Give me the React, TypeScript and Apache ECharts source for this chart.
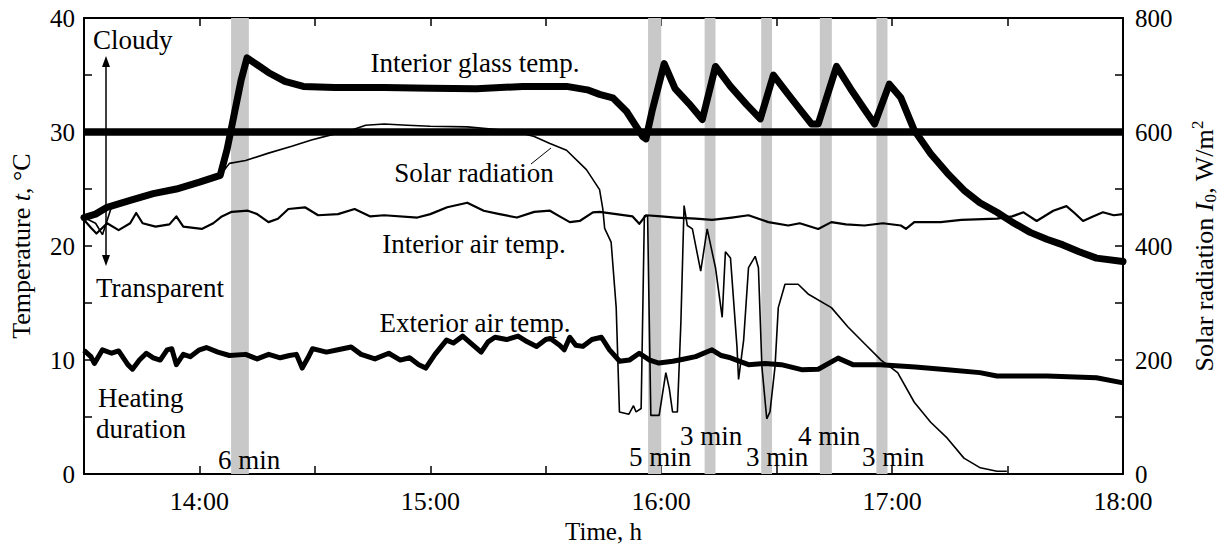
import React, { useEffect, useRef } from "react";
import * as echarts from "echarts";

// Time in decimal hours
const glassTime = [13.5,13.55,13.6,13.7,13.8,13.9,14.0,14.09,14.12,14.15,14.18,14.206,14.25,14.3,14.37,14.45,14.586,14.8,15.0,15.2,15.4,15.59,15.68,15.733,15.79,15.85,15.92,15.934,15.96,16.013,16.06,16.12,16.178,16.235,16.3,16.37,16.429,16.486,16.55,16.6,16.651,16.68,16.759,16.82,16.88,16.924,16.988,17.038,17.096,17.167,17.239,17.311,17.38,17.454,17.52,17.598,17.67,17.74,17.81,17.885,18.0];
const glassTemp = [22.5,22.8,23.4,24.0,24.6,25.0,25.6,26.2,28.5,31.5,34.5,36.5,35.9,35.2,34.45,34.0,33.9,33.9,33.85,33.8,34.0,34.0,33.7,33.3,33.0,31.8,29.6,29.4,31.8,36.0,33.8,32.5,31.1,35.75,34.0,32.4,31.15,35.0,33.3,32.0,30.7,30.7,35.75,33.8,32.0,30.7,34.2,33.0,30.15,28.1,26.4,24.9,23.8,22.96,22.1,21.2,20.6,20.1,19.5,18.94,18.65];

const airInTime = [13.5,13.53,13.554,13.6,13.65,13.7,13.726,13.754,13.81,13.87,13.9,13.93,14.01,14.06,14.097,14.14,14.21,14.25,14.299,14.34,14.385,14.457,14.514,14.6,14.672,14.74,14.8,14.944,15.0,15.073,15.16,15.231,15.3,15.375,15.45,15.518,15.56,15.604,15.647,15.704,15.733,15.805,15.876,15.905,15.934,16.0,16.063,16.149,16.22,16.306,16.378,16.464,16.55,16.6,16.68,16.737,16.8,16.88,16.96,17.038,17.06,17.096,17.21,17.3,17.454,17.52,17.569,17.626,17.698,17.755,17.79,17.827,17.87,17.913,17.96,18.0];
const airInTemp = [22.3,21.6,21.1,22.0,21.4,22.0,22.9,22.0,21.7,21.9,22.6,21.7,21.5,22.0,22.6,23.0,23.1,22.8,22.1,22.4,23.25,23.4,22.7,22.8,23.25,22.6,22.7,22.5,22.8,23.4,23.8,23.1,22.8,22.5,23.0,23.1,22.6,22.1,22.2,22.96,23.0,22.8,22.6,21.95,22.7,22.6,22.5,22.4,22.3,22.5,22.7,22.1,21.8,22.0,21.5,22.1,21.9,21.8,22.0,21.8,21.5,22.1,22.1,22.3,22.4,22.6,22.96,22.2,23.1,23.5,22.9,22.2,22.6,22.96,22.7,22.8];

const airOutTime = [13.5,13.53,13.545,13.58,13.62,13.65,13.69,13.71,13.74,13.77,13.8,13.83,13.86,13.88,13.9,13.93,13.96,14.0,14.03,14.08,14.13,14.2,14.25,14.3,14.35,14.39,14.42,14.445,14.47,14.49,14.55,14.6,14.657,14.7,14.76,14.82,14.87,14.91,14.95,14.98,15.02,15.07,15.1,15.14,15.18,15.22,15.25,15.28,15.33,15.38,15.42,15.46,15.5,15.52,15.56,15.58,15.604,15.63,15.66,15.7,15.741,15.776,15.82,15.862,15.905,15.95,15.99,16.05,16.1,16.149,16.22,16.26,16.3,16.378,16.45,16.52,16.608,16.68,16.766,16.83,16.95,17.1,17.24,17.38,17.454,17.67,17.885,18.0];
const airOutTemp = [10.85,10.3,9.7,10.9,10.6,10.8,9.6,9.2,10.0,10.6,10.2,10.0,10.9,11.0,9.6,10.5,10.3,10.9,11.1,10.7,10.4,10.5,10.1,10.5,10.2,10.4,10.5,9.3,10.2,11.0,10.7,10.9,11.15,10.5,10.1,10.6,10.0,10.2,9.6,9.3,10.5,11.75,11.5,12.1,11.4,10.7,11.6,12.0,11.8,12.1,11.6,11.2,11.8,11.9,11.3,10.9,12.0,11.3,11.2,11.8,12.0,10.9,9.9,10.0,10.6,10.0,9.74,9.9,10.1,10.3,10.9,10.4,10.2,9.6,9.7,9.6,9.16,9.2,10.17,9.6,9.6,9.4,9.16,8.9,8.6,8.6,8.45,8.0];

const solarTime = [13.5,13.55,13.58,13.62,13.7,13.8,13.9,14.0,14.09,14.13,14.2,14.299,14.4,14.485,14.57,14.657,14.72,14.8,14.9,15.0,15.16,15.3,15.375,15.45,15.518,15.59,15.676,15.733,15.747,15.755,15.783,15.805,15.819,15.86,15.88,15.891,15.913,15.927,15.941,15.948,15.955,15.991,16.02,16.035,16.049,16.07,16.085,16.099,16.113,16.135,16.171,16.199,16.235,16.264,16.278,16.3,16.328,16.335,16.357,16.378,16.407,16.421,16.436,16.457,16.471,16.493,16.507,16.536,16.593,16.636,16.737,16.809,16.88,16.952,17.024,17.096,17.167,17.239,17.311,17.382,17.454,17.497];
const solarValue = [450,440,420,470,480,492,500,512,524,545,550,563,575,586,595,603,612,614,612,610,609,604,600,592,580,568,534,499,465,431,407,292,109,105,120,109,115,453,453,275,103,103,178,150,109,109,264,471,436,430,356,430,362,275,390,379,224,166,235,362,382,362,189,97,109,189,292,333,333,316,292,258,229,200,178,126,91,63,28,11,5,5];

const thresholdTemp = 30;

// Heating periods [start, end] in hours
const heatStart = [14.137, 15.943, 16.188, 16.433, 16.687, 16.932];
const heatEnd = [14.214, 16.0, 16.235, 16.48, 16.739, 16.98];

const xTickLabels = ["14:00", "15:00", "16:00", "17:00", "18:00"];

const FONT = "'Liberation Serif', 'Times New Roman', serif";

function zip(a: number[], b: number[]) {
  return a.map((v, i) => [v, b[i]]);
}

export default function App() {
  const ref = useRef<HTMLDivElement>(null);
  useEffect(() => {
    if (!ref.current) return;
    const chart = echarts.init(ref.current, null, { renderer: "svg" });
    const txt = (text: string, x: number, y: number, align = "left", size = 27) => ({
      type: "text",
      x,
      y,
      style: {
        text,
        font: `${size}px ${FONT}`,
        fill: "#000",
        align,
        verticalAlign: "middle",
      },
      z: 50,
    });
    const option: any = {
      animation: false,
      backgroundColor: "#fff",
      grid: { left: 81, right: 100, top: 18, bottom: 66, containLabel: false },
      xAxis: [
        {
          type: "value",
          min: 13.5,
          max: 18,
          interval: 0.5,
          name: "Time, h",
          nameLocation: "middle",
          nameGap: 38,
          nameTextStyle: { fontFamily: FONT, fontSize: 25, color: "#000" },
          axisLine: { show: true, onZero: false, lineStyle: { color: "#000", width: 2 } },
          axisTick: { show: true, inside: true, length: 8, lineStyle: { color: "#000", width: 1.5 } },
          axisLabel: {
            fontFamily: FONT,
            fontSize: 26,
            color: "#000",
            margin: 14,
            formatter: (v: number) => {
              const i = Math.round(v - 14);
              return Math.abs(v - Math.round(v)) < 1e-6 && i >= 0 ? xTickLabels[i] : "";
            },
          },
          splitLine: { show: false },
        },
        {
          type: "value",
          position: "top",
          min: 13.5,
          max: 18,
          interval: 0.5,
          axisLine: { show: true, onZero: false, lineStyle: { color: "#000", width: 2 } },
          axisTick: { show: true, inside: true, length: 8, lineStyle: { color: "#000", width: 1.5 } },
          axisLabel: { show: false },
          splitLine: { show: false },
        },
      ],
      yAxis: [
        {
          type: "value",
          min: 0,
          max: 40,
          interval: 5,
          name: "Temperature {i|t}, °C",
          nameLocation: "middle",
          nameGap: 50,
          nameTextStyle: {
            fontFamily: FONT,
            fontSize: 26,
            color: "#000",
            rich: { i: { fontFamily: FONT, fontSize: 26, fontStyle: "italic", color: "#000" } },
          },
          axisLine: { show: true, onZero: false, lineStyle: { color: "#000", width: 2 } },
          axisTick: { show: true, inside: true, length: 8, lineStyle: { color: "#000", width: 1.5 } },
          axisLabel: {
            fontFamily: FONT,
            fontSize: 25,
            color: "#000",
            margin: 9,
            formatter: (v: number) => (v % 10 === 0 ? String(v) : ""),
          },
          splitLine: { show: false },
        },
        {
          type: "value",
          min: 0,
          max: 800,
          interval: 100,
          position: "right",
          name: "Solar radiation {i|I}{sub|0}, W/m{sup|2}",
          nameLocation: "middle",
          nameGap: 66,
          nameRotate: 90,
          nameTextStyle: {
            fontFamily: FONT,
            fontSize: 26,
            color: "#000",
            rich: {
              i: { fontFamily: FONT, fontSize: 26, fontStyle: "italic", color: "#000" },
              sub: { fontFamily: FONT, fontSize: 17, color: "#000", verticalAlign: "bottom", lineHeight: 30 },
              sup: { fontFamily: FONT, fontSize: 17, color: "#000", verticalAlign: "top", lineHeight: 30 },
            },
          },
          axisLine: { show: true, onZero: false, lineStyle: { color: "#000", width: 2 } },
          axisTick: { show: true, inside: true, length: 8, lineStyle: { color: "#000", width: 1.5 } },
          axisLabel: {
            fontFamily: FONT,
            fontSize: 25,
            color: "#000",
            margin: 12,
            formatter: (v: number) => (v % 200 === 0 ? String(v) : ""),
          },
          splitLine: { show: false },
        },
      ],
      series: [
        {
          name: "bands",
          type: "line",
          data: [],
          z: 1,
          silent: true,
          markArea: {
            silent: true,
            itemStyle: { color: "#c8c8c8" },
            data: heatStart.map((s, i) => [{ xAxis: s }, { xAxis: heatEnd[i] }]),
          },
        },
        {
          name: "Threshold",
          type: "line",
          data: [[13.5, thresholdTemp], [18, thresholdTemp]],
          symbol: "none",
          lineStyle: { color: "#000", width: 7.5 },
          z: 3,
        },
        {
          name: "Solar radiation",
          type: "line",
          yAxisIndex: 1,
          data: zip(solarTime, solarValue),
          symbol: "none",
          lineStyle: { color: "#000", width: 1.6 },
          z: 4,
        },
        {
          name: "Interior air temp.",
          type: "line",
          data: zip(airInTime, airInTemp),
          symbol: "none",
          lineStyle: { color: "#000", width: 2.2, join: "round" },
          z: 4,
        },
        {
          name: "Exterior air temp.",
          type: "line",
          data: zip(airOutTime, airOutTemp),
          symbol: "none",
          lineStyle: { color: "#000", width: 5, join: "round" },
          z: 5,
        },
        {
          name: "Interior glass temp.",
          type: "line",
          data: zip(glassTime, glassTemp),
          symbol: "none",
          lineStyle: { color: "#000", width: 7, join: "round", cap: "round" },
          z: 6,
        },
      ],
      graphic: [
        txt("Cloudy", 93, 40),
        txt("Transparent", 96, 288),
        txt("Heating", 98, 398),
        txt("duration", 96, 429),
        txt("6 min", 249, 460, "center"),
        txt("5 min", 660, 457, "center"),
        txt("3 min", 711, 436, "center"),
        txt("3 min", 777, 457, "center"),
        txt("4 min", 829, 436, "center"),
        txt("3 min", 893, 457, "center"),
        txt("Interior glass temp.", 475, 63, "center"),
        txt("Solar radiation", 474, 173, "center"),
        txt("Interior air temp.", 474, 244, "center"),
        txt("Exterior air temp.", 475, 323, "center"),
        {
          type: "line",
          shape: { x1: 531, y1: 164, x2: 551, y2: 148 },
          style: { stroke: "#000", lineWidth: 1 },
          z: 50,
        },
        {
          type: "line",
          shape: { x1: 106, y1: 64, x2: 106, y2: 258 },
          style: { stroke: "#000", lineWidth: 1.5 },
          z: 50,
        },
        {
          type: "polygon",
          shape: { points: [[106, 56], [102, 67], [110, 67]] },
          style: { fill: "#000" },
          z: 50,
        },
        {
          type: "polygon",
          shape: { points: [[106, 266], [102, 255], [110, 255]] },
          style: { fill: "#000" },
          z: 50,
        },
      ],
    };
    chart.setOption(option);
    return () => chart.dispose();
  }, []);
  return (
    <div
      ref={ref}
      style={{ position: "fixed", left: 0, top: 0, width: 1227, height: 549, background: "#fff" }}
    />
  );
}
